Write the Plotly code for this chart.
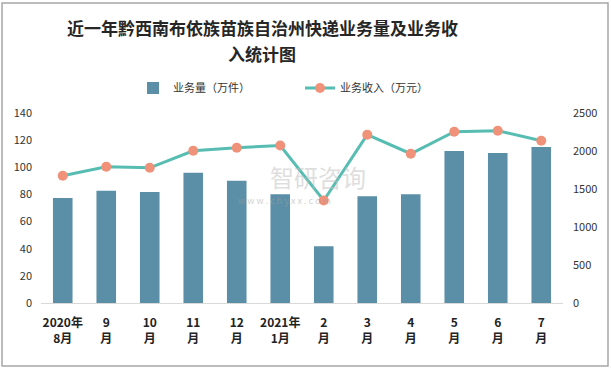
import plotly.graph_objects as go

categories = ["2020年<br>8月", "9<br>月", "10<br>月", "11<br>月", "12<br>月", "2021年<br>1月",
              "2<br>月", "3<br>月", "4<br>月", "5<br>月", "6<br>月", "7<br>月"]
volume = [77.3, 82.7, 81.7, 95.9, 90.0, 80.2, 41.8, 78.7, 80.2, 112.0, 110.5, 114.9]
revenue = [1674, 1792, 1779, 2003, 2043, 2073, 1348, 2214, 1964, 2254, 2267, 2135]
left_ticks = [0, 20, 40, 60, 80, 100, 120, 140]
right_ticks = [0, 500, 1000, 1500, 2000, 2500]

fig = go.Figure()
fig.add_trace(go.Bar(x=categories, y=volume, name="业务量（万件）",
                     marker=dict(color="#5B8FA7", line=dict(width=0)), width=0.45))
fig.add_trace(go.Scatter(x=categories, y=revenue, name="业务收入（万元）", yaxis="y2",
                         mode="lines+markers",
                         line=dict(color="#57BDB2", width=3),
                         marker=dict(color="#F0917A", size=10)))

font = "Noto Sans CJK SC"
W, H = 611, 369
l, r, t, b = 41, 48, 113, 66
pw, ph = W - l - r, H - t - b


def px(xp):
    return (xp - l) / pw


def py(yp):
    return (H - b - yp) / ph


fig.update_layout(
    width=W, height=H,
    margin=dict(l=l, r=r, t=t, b=b, autoexpand=False),
    paper_bgcolor="white", plot_bgcolor="white",
    font=dict(family=font, size=12, color="#333333"),
    showlegend=True,
    legend=dict(orientation="h", x=px(133), xanchor="left", y=py(88), yanchor="middle",
                font=dict(size=11, color="#333333"), itemwidth=30, traceorder="normal",
                entrywidth=122, entrywidthmode="pixels", bgcolor="rgba(0,0,0,0)"),
    bargap=0.55,
    xaxis=dict(range=[-0.5, len(categories) - 0.5], autorange=False,
               showline=True, linecolor="#D9D9D9", linewidth=1, ticks="", showgrid=False,
               automargin=False, ticklabelstandoff=9,
               tickfont=dict(size=12, color="#222222", family=font)),
    yaxis=dict(range=[0, 140], tickvals=left_ticks, showgrid=False, zeroline=False,
               automargin=False, showline=False, ticklabelstandoff=8,
               tickfont=dict(size=11, color="#333333")),
    yaxis2=dict(range=[0, 2500], tickvals=right_ticks, overlaying="y", side="right",
                automargin=False, showgrid=False, zeroline=False, showline=False,
                ticklabelstandoff=9, tickfont=dict(size=11, color="#333333")),
)

fig.update_xaxes(ticktext=[f"<b>{c}</b>" for c in categories], tickvals=categories)

# title (two lines)
fig.add_annotation(text="<b>近一年黔西南布依族苗族自治州快递业务量及业务收</b>", xref="paper", yref="paper",
                   x=px(262), y=py(28), xanchor="center", yanchor="middle", showarrow=False,
                   font=dict(family=font, size=17, color="#262626"))
fig.add_annotation(text="<b>入统计图</b>", xref="paper", yref="paper",
                   x=px(262), y=py(54), xanchor="center", yanchor="middle", showarrow=False,
                   font=dict(family=font, size=17, color="#262626"))

# watermark
fig.add_annotation(text="智研咨询", xref="paper", yref="paper",
                   x=px(268), y=py(176), xanchor="left", yanchor="middle",
                   showarrow=False, font=dict(size=24, color="rgba(190,190,190,0.5)"))
fig.add_annotation(text="w w w . c h y x x . c o m", xref="paper", yref="paper",
                   x=px(236), y=py(200), xanchor="left", yanchor="middle",
                   showarrow=False, font=dict(size=9, color="rgba(160,160,160,0.5)"))

# border
fig.add_shape(type="rect", xref="paper", yref="paper",
              x0=px(2), x1=px(608), y0=py(366), y1=py(3),
              line=dict(color="#A6A6A6", width=1.5), fillcolor="rgba(0,0,0,0)", layer="below")

fig.write_html("out.html", config={"displayModeBar": False},
               post_script="document.body.style.margin='0';document.body.style.overflow='hidden';")
